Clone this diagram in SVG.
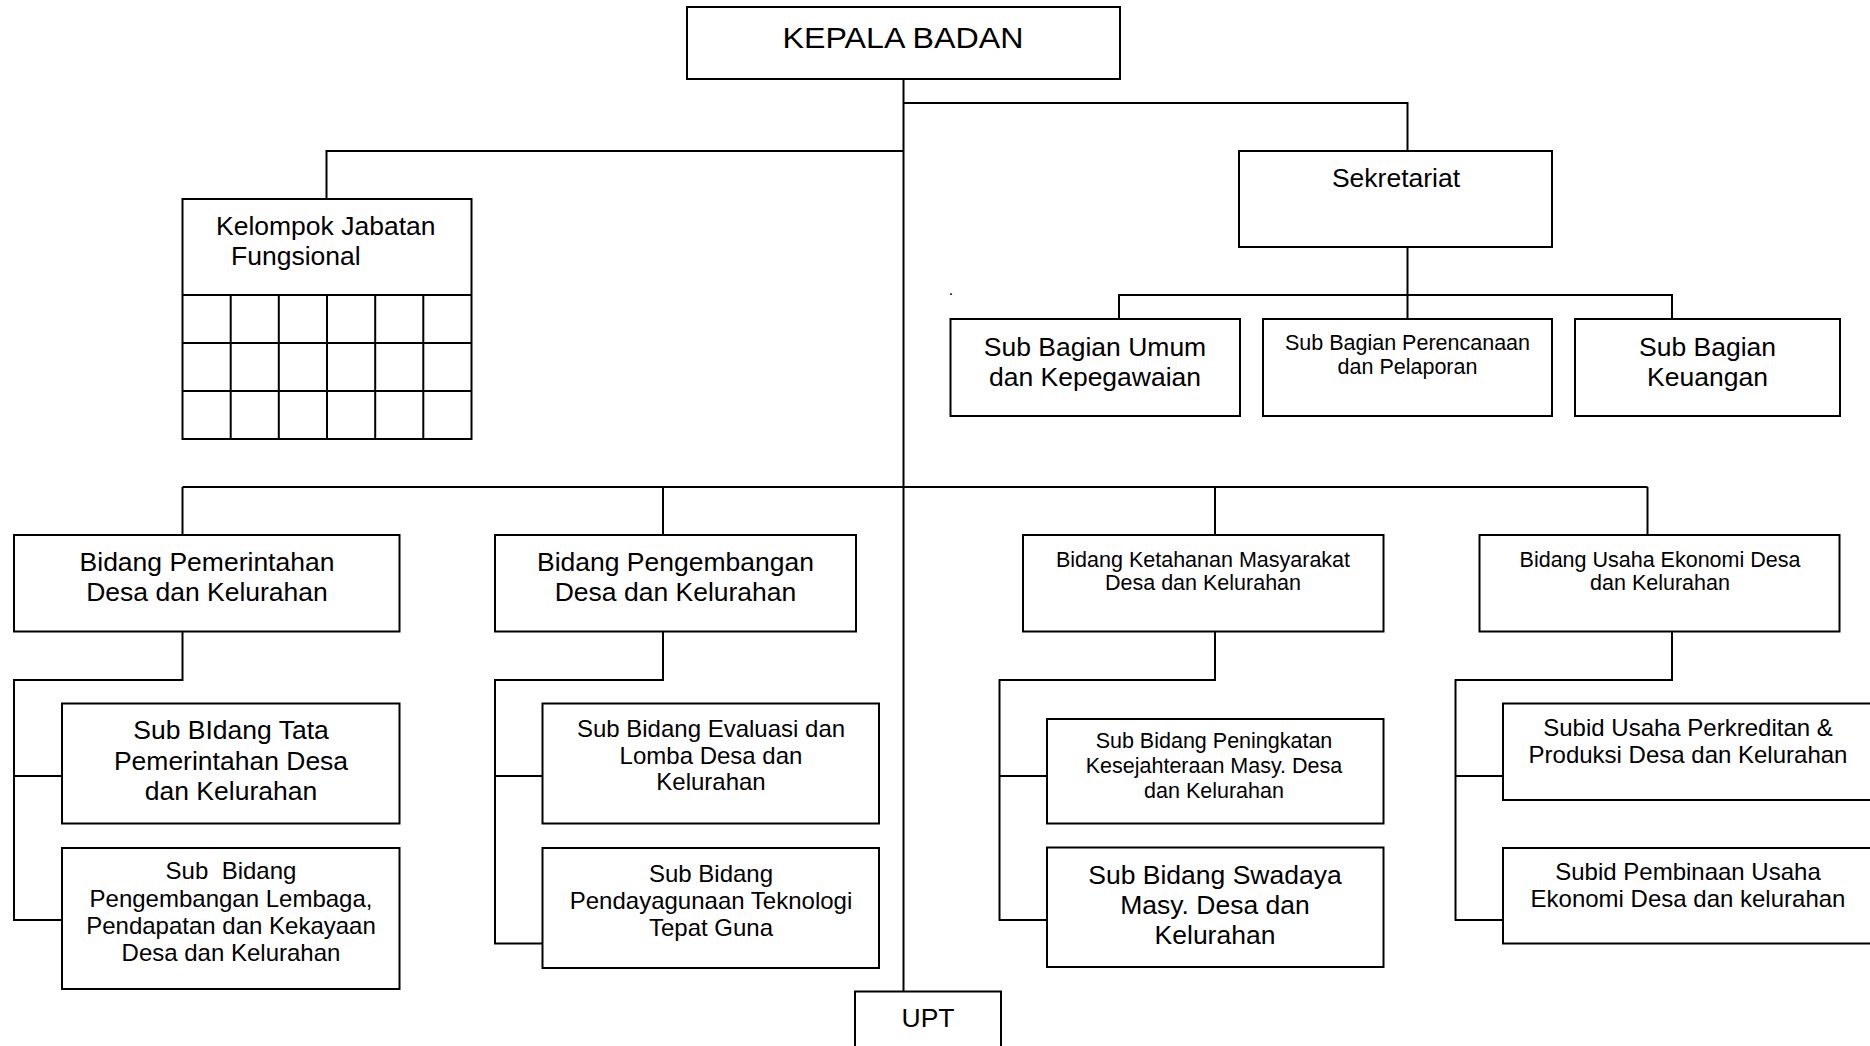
<svg xmlns="http://www.w3.org/2000/svg" width="1870" height="1046" viewBox="0 0 1870 1046">
<style>
.box{fill:#fff;stroke:#000;stroke-width:2}
.ln{fill:none;stroke:#000;stroke-width:2}
text{font-family:"Liberation Sans",Arial,sans-serif;fill:#000;text-anchor:middle}
.L{font-size:26.5px}
.M{font-size:24px}
.S{font-size:21.5px}
.st{text-anchor:start}
</style>
<rect width="1870" height="1046" fill="#fff"/>
<g id="connectors" class="ln">
<path d="M903.5 79V991.5"/>
<path d="M903.5 103H1407.5V151"/>
<path d="M903.5 151H326.5V199"/>
<path d="M1407.5 247V319M1119 319V295H1672V319"/>
<path d="M182.5 487H1647.5M182.5 487V535M663 487V535M1215 487V535M1647.5 487V535"/>
<path d="M182.5 631.5V680H14V920H62M14 776H62"/>
<path d="M663 631.5V680H495V943.5H542.5M495 776H542.5"/>
<path d="M1215 631.5V680H999.5V920H1047M999.5 776H1047"/>
<path d="M1672 631.5V680H1455.5V920H1503M1455.5 776H1503"/>
</g>
<g id="kepala">
<rect class="box" x="687" y="7" width="433" height="72"/>
<text x="903" y="47.5" style="font-size:29px" textLength="241" lengthAdjust="spacingAndGlyphs">KEPALA BADAN</text>
</g>
<g id="sekretariat">
<rect class="box" x="1239" y="151" width="313" height="96"/>
<text class="L" x="1396" y="187">Sekretariat</text>
</g>
<g id="kelompok">
<rect class="box" x="182.5" y="199" width="289" height="240"/>
<path class="ln" d="M182.5 295H471.5M182.5 343H471.5M182.5 391H471.5M230.7 295V439M278.8 295V439M327 295V439M375.2 295V439M423.3 295V439"/>
<text class="L st" x="216" y="235">Kelompok Jabatan</text>
<text class="L st" x="231" y="265">Fungsional</text>
</g>
<text x="951" y="295" style="font-size:16px">.</text>
<g id="sub-umum">
<rect class="box" x="950.5" y="319" width="289.5" height="97"/>
<text class="L" x="1095" y="356">Sub Bagian Umum</text>
<text class="L" x="1095" y="386">dan Kepegawaian</text>
</g>
<g id="sub-perencanaan">
<rect class="box" x="1263" y="319" width="289" height="97"/>
<text class="S" x="1407.5" y="349.5">Sub Bagian Perencanaan</text>
<text class="S" x="1407.5" y="373.5">dan Pelaporan</text>
</g>
<g id="sub-keuangan">
<rect class="box" x="1575" y="319" width="265" height="97"/>
<text class="L" x="1707.5" y="356">Sub Bagian</text>
<text class="L" x="1707.5" y="386">Keuangan</text>
</g>
<g id="bidang-pemerintahan">
<rect class="box" x="14" y="535" width="385.5" height="96.5"/>
<text class="L" x="207" y="571">Bidang Pemerintahan</text>
<text class="L" x="207" y="601">Desa dan Kelurahan</text>
</g>
<g id="bidang-pengembangan">
<rect class="box" x="495" y="535" width="361" height="96.5"/>
<text class="L" x="675.5" y="571">Bidang Pengembangan</text>
<text class="L" x="675.5" y="601">Desa dan Kelurahan</text>
</g>
<g id="bidang-ketahanan">
<rect class="box" x="1023" y="535" width="360.5" height="96.5"/>
<text class="S" x="1203" y="566.5">Bidang Ketahanan Masyarakat</text>
<text class="S" x="1203" y="589.5">Desa dan Kelurahan</text>
</g>
<g id="bidang-usaha">
<rect class="box" x="1479.5" y="535" width="360" height="96.5"/>
<text class="S" x="1660" y="566.5">Bidang Usaha Ekonomi Desa</text>
<text class="S" x="1660" y="589.5">dan Kelurahan</text>
</g>
<g id="sub-tata">
<rect class="box" x="62" y="703.5" width="337.5" height="120"/>
<text class="L" x="231" y="739">Sub BIdang Tata</text>
<text class="L" x="231" y="770">Pemerintahan Desa</text>
<text class="L" x="231" y="800">dan Kelurahan</text>
</g>
<g id="sub-lembaga">
<rect class="box" x="62" y="848" width="337.5" height="141"/>
<text class="M" x="231" y="879" xml:space="preserve">Sub  Bidang</text>
<text class="M" x="231" y="906.5">Pengembangan Lembaga,</text>
<text class="M" x="231" y="934">Pendapatan dan Kekayaan</text>
<text class="M" x="231" y="961">Desa dan Kelurahan</text>
</g>
<g id="sub-evaluasi">
<rect class="box" x="542.5" y="703.5" width="336.5" height="120"/>
<text class="M" x="711" y="737">Sub Bidang Evaluasi dan</text>
<text class="M" x="711" y="764">Lomba Desa dan</text>
<text class="M" x="711" y="790">Kelurahan</text>
</g>
<g id="sub-pendayagunaan">
<rect class="box" x="542.5" y="848" width="336.5" height="120"/>
<text class="M" x="711" y="881.5">Sub Bidang</text>
<text class="M" x="711" y="909">Pendayagunaan Teknologi</text>
<text class="M" x="711" y="936">Tepat Guna</text>
</g>
<g id="sub-peningkatan">
<rect class="box" x="1047" y="719" width="336.5" height="104.5"/>
<text class="S" x="1214" y="748">Sub Bidang Peningkatan</text>
<text class="S" x="1214" y="773">Kesejahteraan Masy. Desa</text>
<text class="S" x="1214" y="797.5">dan Kelurahan</text>
</g>
<g id="sub-swadaya">
<rect class="box" x="1047" y="847.5" width="336.5" height="119.5"/>
<text class="L" x="1215" y="884">Sub Bidang Swadaya</text>
<text class="L" x="1215" y="914">Masy. Desa dan</text>
<text class="L" x="1215" y="944">Kelurahan</text>
</g>
<g id="subid-perkreditan">
<rect class="box" x="1503" y="703.5" width="372" height="96.5"/>
<text class="M" x="1688" y="736">Subid Usaha Perkreditan &amp;</text>
<text class="M" x="1688" y="763">Produksi Desa dan Kelurahan</text>
</g>
<g id="subid-pembinaan">
<rect class="box" x="1503" y="848" width="372" height="95.5"/>
<text class="M" x="1688" y="880">Subid Pembinaan Usaha</text>
<text class="M" x="1688" y="907">Ekonomi Desa dan kelurahan</text>
</g>
<g id="upt">
<rect class="box" x="855" y="991.5" width="146" height="70"/>
<text class="L" x="928" y="1027">UPT</text>
</g>
</svg>
